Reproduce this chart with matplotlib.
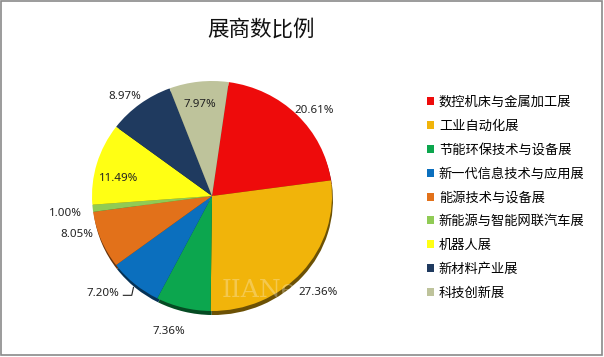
"""Exhibitor share pie chart."""
import matplotlib
matplotlib.use("Agg")
import matplotlib.pyplot as plt  # noqa: E402
from matplotlib.patches import Patch, Rectangle  # noqa: E402
import numpy as np

plt.rcParams["font.family"] = ["Noto Sans CJK SC", "DejaVu Sans"]

title = "展商数比例"
halls = ["数控机床与金属加工展", "工业自动化展", "节能环保技术与设备展",
         "新一代信息技术与应用展", "能源技术与设备展", "新能源与智能网联汽车展",
         "机器人展", "新材料产业展", "科技创新展"]
shares = [20.61, 27.36, 7.36, 7.20, 8.05, 1.00, 11.49, 8.97, 7.97]
colors = ["#EE0B0B", "#F1B40A", "#0CA64E", "#0B6FBE", "#E2711A",
          "#90CB55", "#FFFF14", "#1F3A5F", "#BEC39B"]

# label placement tweaks (radius factor, angle offset in degrees)
label_r = [1.13, 1.22, 1.23, 1.24, 1.17, 1.23, 0.79, 1.13, 0.80]
label_da = [-4, -2, -3, -7, -6, 1, 5, 3, 1]


def darken(c, f=0.45):
    rgb = np.array(matplotlib.colors.to_rgb(c))
    return tuple(rgb * f)


W, H = 604, 357
fig = plt.figure(figsize=(W / 100, H / 100), dpi=100)
cx, cy, rx, ry = 212, 196, 120, 115
ax = fig.add_axes([(cx - rx) / W, (H - cy - ry) / H, 2 * rx / W, 2 * ry / H])

# shadow rim under the pie
ax.pie(shares, colors=[darken(c) for c in colors], startangle=82,
       counterclock=False, center=(0.008, -0.035), radius=1.0)
wedges, _ = ax.pie(shares, colors=colors, startangle=82, counterclock=False,
                   radius=1.0)
ax.set_aspect("auto")
ax.set_xlim(-1, 1)
ax.set_ylim(-1, 1)

for i, w in enumerate(wedges):
    ang = np.deg2rad((w.theta1 + w.theta2) / 2 + label_da[i])
    x, y = label_r[i] * np.cos(ang), label_r[i] * np.sin(ang)
    ax.text(x, y, f"{shares[i]:.2f}%", ha="center", va="center",
            fontsize=8.3, family=["Noto Sans", "DejaVu Sans"], color="#222222")
    if halls[i].startswith("新一代"):
        mid = np.deg2rad((w.theta1 + w.theta2) / 2)
        ex, ey = np.cos(mid), np.sin(mid)
        ax.plot([x + 0.17, x + 0.24, ex - 0.01], [y - 0.02, y - 0.02, ey - 0.03],
                color="#222222", lw=0.8, clip_on=False)

# faint watermark (only the part over the pie shows)
ax.text(0.08, -0.82, "IIANe", fontsize=18, family="DejaVu Serif",
        color="white", alpha=0.28, ha="left", va="center")

fig.text(261 / W, 1 - 30 / H, title, ha="center", va="center", fontsize=15.5,
         fontweight="medium", color="#111111")

handles = [Patch(facecolor=c, edgecolor="none") for c in colors]
fig.legend(handles, halls, loc="upper left", bbox_to_anchor=(427 / W, 1 - 96 / H),
           frameon=False, fontsize=9.5, handlelength=0.55, handleheight=0.55,
           handletextpad=0.35, labelspacing=0.82, borderpad=0, borderaxespad=0)

fig.patches.append(Rectangle((0.002, 0.006), 0.994, 0.99, transform=fig.transFigure,
                             fill=False, edgecolor="#8a8a8a", lw=1.2))

fig.savefig("out.png", dpi=100)
plt.close(fig)
